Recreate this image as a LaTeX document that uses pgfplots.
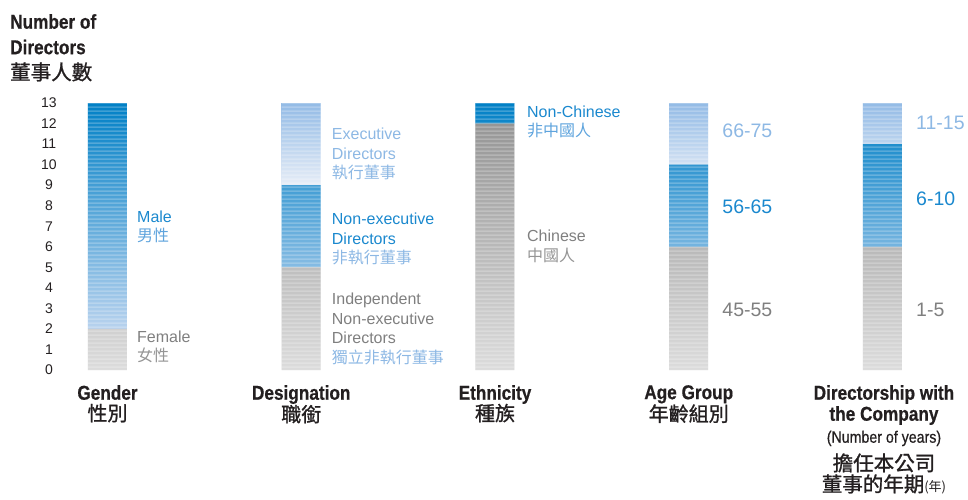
\documentclass[border=0pt]{standalone}
\usepackage{pgfplots}
\pgfplotsset{compat=1.18}
\usepackage{pgfplotstable}
\usetikzlibrary{patterns}
\usepackage{fontspec}
\setmainfont{Liberation Sans}
\newfontfamily\cond[FakeStretch=0.86,FakeBold=0.6]{Liberation Sans}
\newfontfamily\cjk{Noto Sans CJK TC}
\newfontfamily\cjkm[FakeBold=1.2]{Noto Sans CJK TC}

% wide horizontal stripe tile (no seams inside a bar)
\pgfdeclarepatternformonly{hstripes}{\pgfpoint{0pt}{0pt}}{\pgfpoint{1200pt}{4pt}}{\pgfpoint{1200pt}{4pt}}{%
  \pgfpathrectangle{\pgfpoint{0pt}{0pt}}{\pgfpoint{1200pt}{2pt}}\pgfusepath{fill}}

\definecolor{grayTop}{HTML}{969696}
\definecolor{grayBot}{HTML}{DCDCDC}
\definecolor{blueTop}{HTML}{0080C6}
\definecolor{blueBot}{HTML}{B8D2EE}
\definecolor{lightTop}{HTML}{93BBE6}
\definecolor{lightBot}{HTML}{E6EDF7}
\definecolor{txtBlue}{HTML}{1A88CE}
\definecolor{txtBlue2}{HTML}{5FA4DD}
\definecolor{txtLight}{HTML}{8DB8E4}
\definecolor{txtGray}{HTML}{7F7F7F}
\definecolor{txtGray2}{HTML}{959595}
\definecolor{ink}{HTML}{231F20}

% segments of each bar, bottom to top
\pgfplotstableread{
x gray blue light
0 2  11 0
1 5  4  4
2 12 1  0
3 6  4  3
4 6  5  2
}\directors

\begin{document}
\begin{tikzpicture}
\begin{axis}[
    at={(0,0)}, anchor=south west,
    scale only axis,
    width=876.6pt, height=267pt,
    xmin=-0.2245, xmax=4.3,
    ymin=0, ymax=13,
    ybar stacked,
    bar width=39pt,
    axis x line=none,
    axis y line*=left,
    y axis line style={draw=none},
    major tick length=0pt,
    ytick={0,...,13},
    /pgf/number format/assume math mode=true,
    yticklabel style={font=\fontsize{14}{14}\selectfont, text=ink, anchor=center, xshift=-15pt},
    clip=false,
    stripes/.style={postaction={pattern=hstripes, pattern color=white, fill opacity=0.36}},
]
\addplot[draw=none, top color=grayTop, bottom color=grayBot, stripes] table[x=x, y=gray] {\directors};
\addplot[draw=none, top color=blueTop, bottom color=blueBot, stripes] table[x=x, y=blue] {\directors};
\addplot[draw=none, top color=lightTop, bottom color=lightBot, stripes] table[x=x, y=light] {\directors};

% segment labels
\tikzset{seg/.style={anchor=west, inner sep=0pt, align=left, font=\fontsize{16}{19.5}\selectfont}}
\node[seg, xshift=29.5pt] at (axis cs:0,6.96) {\textcolor{txtBlue}{Male}\\\textcolor{txtBlue2}{\cjk 男性}};
\node[seg, xshift=29.5pt] at (axis cs:0,1.14) {\textcolor{txtGray}{Female}\\\textcolor{txtGray2}{\cjk 女性}};
\node[seg, xshift=30.5pt] at (axis cs:1,10.52) {\textcolor{txtLight}{Executive}\\\textcolor{txtLight}{Directors}\\\textcolor{txtLight}{\cjk 執行董事}};
\node[seg, xshift=30.5pt] at (axis cs:1,6.38) {\textcolor{txtBlue}{Non-executive}\\\textcolor{txtBlue}{Directors}\\\textcolor{txtLight}{\cjk 非執行董事}};
\node[seg, xshift=30.5pt] at (axis cs:1,2.0) {\textcolor{txtGray}{Independent}\\\textcolor{txtGray}{Non-executive}\\\textcolor{txtGray}{Directors}\\\textcolor{txtLight}{\cjk 獨立非執行董事}};
\node[seg, xshift=32pt] at (axis cs:2,12.07) {\textcolor{txtBlue}{Non-Chinese}\\\textcolor{txtBlue2}{\cjk 非中國人}};
\node[seg, xshift=32pt] at (axis cs:2,6.01) {\textcolor{txtGray}{Chinese}\\\textcolor{txtGray2}{\cjk 中國人}};
\tikzset{big/.style={anchor=west, inner sep=0pt, font=\fontsize{19.5}{20}\selectfont, xshift=33.5pt}}
\node[big, text=txtLight] at (axis cs:3,11.64) {66-75};
\node[big, text=txtBlue] at (axis cs:3,7.94) {56-65};
\node[big, text=txtGray] at (axis cs:3,2.92) {45-55};
\node[big, text=txtLight] at (axis cs:4,12.03) {11-15};
\node[big, text=txtBlue] at (axis cs:4,8.33) {6-10};
\node[big, text=txtGray] at (axis cs:4,2.92) {1-5};

% category labels
\tikzset{cat/.style={anchor=north, inner sep=0pt, align=center, text=ink, yshift=-15pt, font=\cond\bfseries\fontsize{20}{21}\selectfont}}
\newcommand{\zh}[1]{{\cjkm\mdseries\fontsize{20}{21}\selectfont #1}}
\node[cat] at (axis cs:0,0) {Gender\\\zh{性別}};
\node[cat] at (axis cs:1,0) {Designation\\\zh{職銜}};
\node[cat] at (axis cs:2,0) {Ethnicity\\\zh{種族}};
\node[cat] at (axis cs:3,0) {Age Group\\\zh{年齡組別}};
\node[cat, xshift=1.5pt] at (axis cs:4,0) {Directorship with\\the Company\\[1pt]{\mdseries\fontsize{16.5}{20}\selectfont (Number of years)}\\[7pt]{\cjkm\mdseries\fontsize{20.5}{28}\selectfont 擔任本公司}\\{\cjkm\mdseries\fontsize{20.5}{28}\selectfont 董事的年期{\cjk\fontsize{13}{13}\selectfont (年)}}};

% axis title
\node[anchor=north west, inner sep=0pt, align=left, text=ink, font=\cond\bfseries\fontsize{20}{25.5}\selectfont]
    at (rel axis cs:0,1) [xshift=-54pt, yshift=89pt] {Number of\\Directors\\{\cjkm\mdseries\fontsize{20.5}{25.5}\selectfont 董事人數}};
\end{axis}
\pgfresetboundingbox
\path (-64pt,-129pt) rectangle (904pt,370pt);
\end{tikzpicture}
\end{document}
